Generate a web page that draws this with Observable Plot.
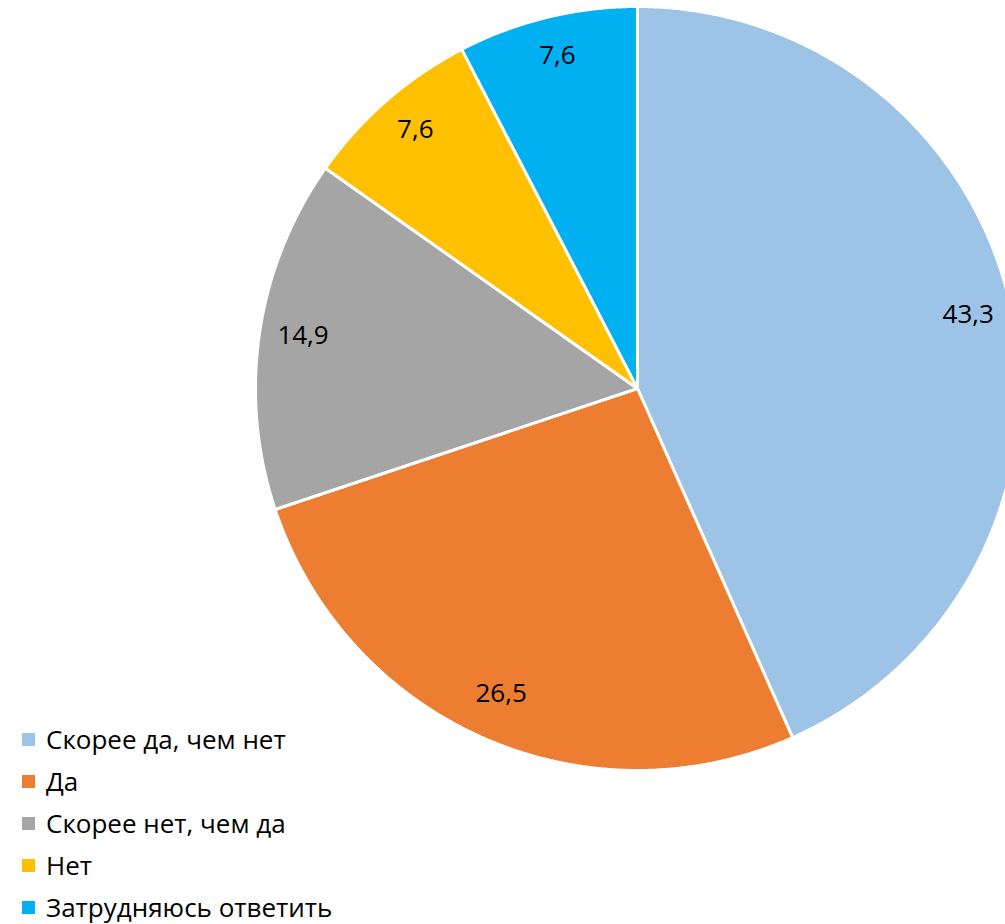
<!DOCTYPE html>
<html><head><meta charset="utf-8">
<script src="https://cdn.jsdelivr.net/npm/d3@7"></script>
<script src="https://cdn.jsdelivr.net/npm/@observablehq/plot@0.6"></script>
<style>
body{margin:0;background:#fff;}
#wrap{position:relative;width:1005px;height:924px;overflow:hidden;}
#legend{position:absolute;left:22px;top:718px;font-family:"Open Sans",sans-serif;font-size:26px;color:#000;}
.li{display:flex;align-items:center;height:42px;line-height:1.1;}
.sw{width:13px;height:13px;margin-right:11px;flex:none;}
</style></head>
<body><div id="wrap"><div id="chart"></div><div id="legend"></div></div>
<script>
const categories = ["Скорее да, чем нет","Да","Скорее нет, чем да","Нет","Затрудняюсь ответить"];
const values = [43.3, 26.5, 14.9, 7.6, 7.6];
const labels = ["43,3","26,5","14,9","7,6","7,6"];
const colors = ["#9DC3E6","#ED7D31","#A5A5A5","#FFC000","#00B0F0"];

const arcs = d3.pie().sort(null).value(d => d.value)(categories.map((c,i)=>({cat:c,value:values[i],label:labels[i]})));
const poly = [];
arcs.forEach(a => {
  const n = Math.max(2, Math.ceil((a.endAngle - a.startAngle) / 0.005));
  poly.push({cat:a.data.cat, x:0, y:0});
  for (let k=0;k<=n;k++){
    const t = a.startAngle + (a.endAngle - a.startAngle)*k/n;
    poly.push({cat:a.data.cat, x:Math.sin(t), y:Math.cos(t)});
  }
  poly.push({cat:a.data.cat, x:0, y:0});
});
const labelPts = arcs.map(a => {
  const m = (a.startAngle + a.endAngle)/2;
  return {label:a.data.label, x:0.885*Math.sin(m), y:0.885*Math.cos(m)};
});

const chart = Plot.plot({
  width:1005, height:924, margin:0,
  x:{domain:[-1,1], range:[255,1019], axis:null},
  y:{domain:[-1,1], range:[770,6], axis:null},
  color:{domain:categories, range:colors},
  style:{background:"#fff", overflow:"hidden"},
  marks:[
    Plot.line(poly, {x:"x", y:"y", z:"cat", fill:"cat", stroke:"#fff", strokeWidth:3, curve:"linear"}),
    Plot.text(labelPts, {x:"x", y:"y", dy:-4, text:"label", fontSize:26, fill:"#000", fontFamily:"Open Sans, sans-serif"})
  ]
});
document.getElementById("chart").appendChild(chart);

const lg = document.getElementById("legend");
categories.forEach((c,i)=>{
  const d = document.createElement("div"); d.className="li";
  d.innerHTML = `<span class="sw" style="background:${colors[i]}"></span><span>${c}</span>`;
  lg.appendChild(d);
});
</script></body></html>
